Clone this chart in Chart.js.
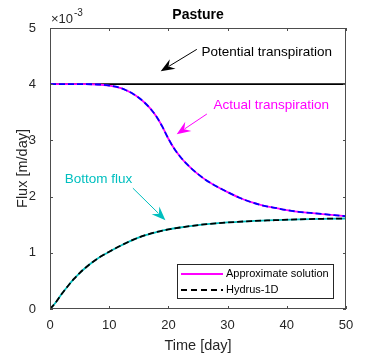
<!DOCTYPE html>
<html>
<head>
<meta charset="utf-8">
<script src="https://cdn.jsdelivr.net/npm/chart.js@4.4.0/dist/chart.umd.min.js"></script>
<style>
  html, body { margin: 0; padding: 0; background: #fff; }
  #contenedor { width: 382px; height: 354px; }
</style>
</head>
<body>
<div id="contenedor"><canvas id="grafica_pasture"></canvas></div>
<script>
/*-----Datos (flujo en x10^-3 m/day)-----*/

const dias_transp = [0, 2, 4, 6, 8, 10, 12, 13, 14, 15, 16, 17, 18, 19, 20, 21, 22, 23, 24, 25,
                     26, 27, 28, 30, 32, 34, 36, 38, 40, 42, 44, 46, 48, 50];
const transp_real = [4.00, 4.00, 4.00, 4.00, 3.995, 3.975, 3.93, 3.885, 3.83, 3.76, 3.67, 3.56, 3.42, 3.24, 3.03, 2.85,
                     2.71, 2.59, 2.49, 2.40, 2.32, 2.25, 2.19, 2.08, 1.98, 1.90, 1.84, 1.80, 1.76, 1.73, 1.71, 1.69, 1.67, 1.65];

const dias_fondo = [0, 1, 2, 3, 4, 5, 6, 7, 8, 9, 10, 12, 14, 16, 18, 20, 22, 24, 26, 28, 30, 34, 38, 42, 46, 50];
const flujo_fondo = [0, 0.12, 0.27, 0.405, 0.53, 0.64, 0.735, 0.82, 0.895, 0.96, 1.02, 1.13, 1.23, 1.31, 1.37, 1.415,
                     1.45, 1.48, 1.505, 1.525, 1.54, 1.565, 1.58, 1.595, 1.605, 1.61];

const dias_potencial = [0, 50];
const transp_potencial = [4, 4];

const ticks_x = [0, 10, 20, 30, 40, 50];
const ticks_y = [0, 1, 2, 3, 4, 5];

const puntos = (xs, ys) => xs.map((x, i) => ({x: x, y: ys[i]}));

/*-----Anotaciones (en unidades de los ejes)-----*/

const anotaciones = [
  {texto: 'Potential transpiration', color: '#000000', tx: 25.6, ty: 4.57, desde: [24.8, 4.62], hasta: [18.7, 4.23]},
  {texto: 'Actual transpiration', color: '#ff00ff', tx: 27.6, ty: 3.62, desde: [26.5, 3.47], hasta: [21.4, 3.11]},
  {texto: 'Bottom flux', color: '#00bfbf', tx: 2.5, ty: 2.31, desde: [14.0, 2.15], hasta: [19.5, 1.58]}
];

const fuente = '"Liberation Sans", Arial, Helvetica, sans-serif';

function flecha(ctx, x1, y1, x2, y2, color) {
  const ang = Math.atan2(y2 - y1, x2 - x1);
  const c = Math.cos(ang), s = Math.sin(ang);
  const largo = 14, ancho = 5.5;
  ctx.strokeStyle = color;
  ctx.fillStyle = color;
  ctx.lineWidth = 1;
  ctx.beginPath();
  ctx.moveTo(x1, y1);
  ctx.lineTo(x2 - c * largo * 0.7, y2 - s * largo * 0.7);
  ctx.stroke();
  ctx.beginPath();
  ctx.moveTo(x2, y2);
  ctx.lineTo(x2 - largo * c + ancho * s, y2 - largo * s - ancho * c);
  ctx.lineTo(x2 - largo * 0.65 * c, y2 - largo * 0.65 * s);
  ctx.lineTo(x2 - largo * c - ancho * s, y2 - largo * s + ancho * c);
  ctx.closePath();
  ctx.fill();
}

const decoracion = {
  id: 'decoracion',
  afterDraw(chart) {
    const ctx = chart.ctx;
    const area = chart.chartArea;
    const sx = chart.scales.x, sy = chart.scales.y;
    ctx.save();

    // marco y ticks interiores
    ctx.strokeStyle = '#4d4d4d';
    ctx.lineWidth = 1;
    ctx.strokeRect(area.left + 0.5, area.top + 0.5, area.right - area.left - 1, area.bottom - area.top - 1);
    ctx.beginPath();
    ticks_x.forEach(v => {
      const px = Math.round(sx.getPixelForValue(v)) + 0.5;
      ctx.moveTo(px, area.bottom); ctx.lineTo(px, area.bottom - 3);
      ctx.moveTo(px, area.top); ctx.lineTo(px, area.top + 3);
    });
    ticks_y.forEach(v => {
      const py = Math.round(sy.getPixelForValue(v)) + 0.5;
      ctx.moveTo(area.left, py); ctx.lineTo(area.left + 3, py);
      ctx.moveTo(area.right, py); ctx.lineTo(area.right - 3, py);
    });
    ctx.stroke();

    // titulo
    ctx.fillStyle = '#000000';
    ctx.font = 'bold 14px ' + fuente;
    ctx.textAlign = 'center';
    ctx.textBaseline = 'middle';
    ctx.fillText('Pasture', (area.left + area.right) / 2, 15);

    // exponente del eje y
    ctx.fillStyle = '#262626';
    ctx.textAlign = 'left';
    ctx.font = '13px ' + fuente;
    ctx.fillText('\u00d710', area.left + 1, 19);
    ctx.font = '10px ' + fuente;
    ctx.fillText('-3', area.left + 24, 13);

    // anotaciones
    ctx.font = '13.5px ' + fuente;
    anotaciones.forEach(a => {
      ctx.fillStyle = a.color;
      ctx.textAlign = 'left';
      ctx.textBaseline = 'middle';
      ctx.fillText(a.texto, sx.getPixelForValue(a.tx), sy.getPixelForValue(a.ty));
      flecha(ctx, sx.getPixelForValue(a.desde[0]), sy.getPixelForValue(a.desde[1]),
             sx.getPixelForValue(a.hasta[0]), sy.getPixelForValue(a.hasta[1]), a.color);
    });

    // leyenda
    const lx = area.right - 169, ly = area.bottom - 45, lw = 156, lh = 34;
    ctx.fillStyle = '#ffffff';
    ctx.fillRect(lx, ly, lw, lh);
    ctx.strokeStyle = '#262626';
    ctx.lineWidth = 1;
    ctx.strokeRect(lx + 0.5, ly + 0.5, lw, lh);
    ctx.lineWidth = 1.8;
    ctx.strokeStyle = '#ff00ff';
    ctx.beginPath(); ctx.moveTo(lx + 4, ly + 10); ctx.lineTo(lx + 46, ly + 10); ctx.stroke();
    ctx.strokeStyle = '#000000';
    ctx.setLineDash([6, 4]);
    ctx.beginPath(); ctx.moveTo(lx + 4, ly + 26); ctx.lineTo(lx + 46, ly + 26); ctx.stroke();
    ctx.setLineDash([]);
    ctx.fillStyle = '#000000';
    ctx.font = '11px ' + fuente;
    ctx.fillText('Approximate solution', lx + 49, ly + 10);
    ctx.fillText('Hydrus-1D', lx + 49, ly + 26);

    ctx.restore();
  }
};

/*-----Gráfica-----*/

const grafica_pasture = document.getElementById('grafica_pasture');

new Chart(grafica_pasture, {
  type: 'line',
  data: {
    datasets: [{
      label: 'Hydrus-1D (transpiration)',
      data: puntos(dias_transp, transp_real),
      borderColor: '#0000ff',
      borderWidth: 1.8,
      borderDash: [6, 3],
      order: 1
    },
    {
      label: 'Hydrus-1D (bottom flux)',
      data: puntos(dias_fondo, flujo_fondo),
      borderColor: '#000000',
      borderWidth: 1.8,
      borderDash: [6, 3],
      order: 2
    },
    {
      label: 'Approximate solution (transpiration)',
      data: puntos(dias_transp, transp_real),
      borderColor: '#ff00ff',
      borderWidth: 1.8,
      order: 3
    },
    {
      label: 'Approximate solution (bottom flux)',
      data: puntos(dias_fondo, flujo_fondo),
      borderColor: '#00bfbf',
      borderWidth: 1.8,
      order: 4
    },
    {
      label: 'Potential transpiration',
      data: puntos(dias_potencial, transp_potencial),
      borderColor: '#000000',
      borderWidth: 1.8,
      order: 5
    }]
  },
  options: {
    responsive: true,
    maintainAspectRatio: false,
    animation: false,
    elements: {
      point: { radius: 0 },
      line: { tension: 0.4, cubicInterpolationMode: 'monotone', fill: false }
    },
    layout: {
      padding: { left: 0, right: 36, top: 28, bottom: 0 }
    },
    scales: {
      x: {
        type: 'linear',
        min: 0,
        max: 50,
        afterBuildTicks: s => { s.ticks = ticks_x.map(v => ({value: v})); },
        afterFit: s => { s.height = 45; },
        grid: { display: false },
        border: { display: false },
        ticks: { color: '#262626', padding: 1, font: { family: fuente, size: 13 } },
        title: {
          display: true,
          text: 'Time [day]',
          color: '#262626',
          padding: { top: 0, bottom: -1 },
          font: { family: fuente, size: 14.5 }
        }
      },
      y: {
        min: 0,
        max: 5,
        afterBuildTicks: s => { s.ticks = ticks_y.map(v => ({value: v})); },
        afterFit: s => { s.width = 50; },
        grid: { display: false },
        border: { display: false },
        ticks: { color: '#262626', padding: 6, font: { family: fuente, size: 13 } },
        title: {
          display: true,
          text: 'Flux [m/day]',
          color: '#262626',
          padding: { top: 14, bottom: 0 },
          font: { family: fuente, size: 14.5 }
        }
      }
    },
    plugins: {
      legend: { display: false },
      tooltip: { enabled: false }
    }
  },
  plugins: [decoracion]
});
</script>
</body>
</html>
